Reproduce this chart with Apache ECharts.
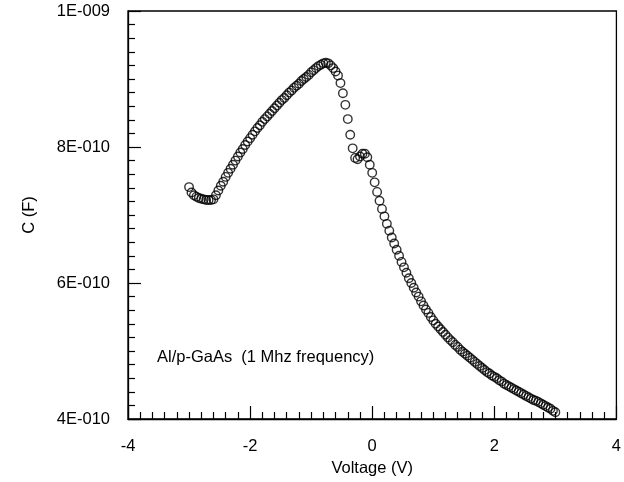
<!DOCTYPE html>
<html>
<head>
<meta charset="utf-8">
<script src="https://cdn.jsdelivr.net/npm/echarts@6/dist/echarts.min.js"></script>
<style>
html,body{margin:0;padding:0;background:#fff;}
#chart{width:624px;height:482px;}
</style>
</head>
<body>
<div id="chart"></div>
<script>
// Voltage (V)
var voltage = [
-3.00,-2.96,-2.92,-2.88,-2.84,-2.80,-2.76,-2.72,-2.68,-2.64,-2.60,
-2.56,-2.52,-2.48,-2.44,-2.40,-2.36,-2.32,-2.28,-2.24,-2.20,
-2.16,-2.12,-2.08,-2.04,-2.00,-1.96,-1.92,-1.88,-1.84,-1.80,
-1.76,-1.72,-1.68,-1.64,-1.60,-1.56,-1.52,-1.48,-1.44,-1.40,
-1.36,-1.32,-1.28,-1.24,-1.20,-1.16,-1.12,-1.08,-1.04,-1.00,
-0.96,-0.92,-0.88,-0.84,-0.80,
-0.76,-0.72,-0.68,-0.64,-0.60,-0.56,
-0.52,-0.48,-0.44,-0.40,-0.36,-0.32,-0.28,-0.24,-0.20,-0.16,-0.12,-0.08,-0.04,0.00,
0.04,0.08,0.12,0.16,0.20,0.24,0.28,0.32,0.36,0.40,0.44,0.48,0.52,0.56,0.60,0.64,0.68,0.72,0.76,0.80,0.84,0.88,0.92,0.96,1.00,
1.04,1.08,1.12,1.16,1.20,1.24,1.28,1.32,1.36,1.40,
1.44,1.48,1.52,1.56,1.60,1.64,1.68,1.72,1.76,1.80,
1.84,1.88,1.92,1.96,2.00,2.04,2.08,2.12,2.16,2.20,
2.24,2.28,2.32,2.36,2.40,2.44,2.48,2.52,2.56,2.60,
2.64,2.68,2.72,2.76,2.80,2.84,2.88,2.92,2.96,3.00
];
// Capacitance in units of 1E-010 F
var capacitance = [
7.41,7.33,7.29,7.27,7.25,7.24,7.23,7.22,7.22,7.22,7.23,
7.29,7.36,7.43,7.49,7.56,7.62,7.68,7.74,7.80,7.86,
7.92,7.97,8.03,8.08,8.13,8.18,8.23,8.28,8.32,8.37,
8.41,8.45,8.49,8.53,8.57,8.61,8.65,8.69,8.72,8.76,
8.80,8.83,8.87,8.90,8.93,8.97,9.00,9.03,9.06,9.10,
9.13,9.16,9.19,9.21,9.23,
9.24,9.23,9.20,9.16,9.11,9.05,
8.94,8.79,8.62,8.41,8.18,7.98,7.84,7.82,7.86,7.90,7.90,7.85,7.74,7.62,
7.48,7.34,7.21,7.09,6.98,6.87,6.77,6.67,6.58,6.49,6.40,6.31,6.23,6.15,6.07,6.00,5.93,5.86,5.80,5.73,5.67,5.61,5.56,5.50,5.45,
5.40,5.36,5.32,5.28,5.24,5.20,5.16,5.13,5.09,5.06,
5.02,4.99,4.96,4.93,4.90,4.87,4.84,4.81,4.78,4.75,
4.72,4.69,4.67,4.64,4.62,4.60,4.57,4.55,4.52,4.50,
4.48,4.46,4.44,4.42,4.40,4.38,4.36,4.34,4.32,4.30,
4.28,4.27,4.25,4.23,4.21,4.19,4.17,4.15,4.12,4.10
];
var xTickLabels = {"-4":"-4","-2":"-2","0":"0","2":"2","4":"4"};
var yTickLabels = {"4":"4E-010","6":"6E-010","8":"8E-010","10":"1E-009"};
var annotation = "Al/p-GaAs  (1 Mhz frequency)";

var points = voltage.map(function(v,i){return [v, capacitance[i]];});
var FONT = "Liberation Sans";
var FS = 16.5;
var chart = echarts.init(document.getElementById('chart'), null, {renderer:'canvas'});
chart.setOption({
  animation:false,
  backgroundColor:'#fff',
  grid:{left:128, top:11, right:2, bottom:63, show:true, borderColor:'#000', borderWidth:1.3},
  xAxis:{
    type:'value', min:-4, max:4, interval:2,
    name:'Voltage (V)', nameLocation:'middle', nameGap:40,
    nameTextStyle:{fontFamily:FONT, fontSize:FS, color:'#000'},
    axisLine:{show:true, onZero:false, lineStyle:{color:'#000', width:1.3}},
    axisTick:{show:true, inside:true, length:13, lineStyle:{color:'#000', width:1.2}},
    minorTick:{show:true, splitNumber:10, length:7, lineStyle:{color:'#000', width:1.2}},
    axisLabel:{margin:19, fontFamily:FONT, fontSize:FS, color:'#000',
      formatter:function(v){return xTickLabels[String(v)];}},
    splitLine:{show:false}
  },
  yAxis:{
    type:'value', min:4, max:10, interval:2,
    name:'C (F)', nameLocation:'middle', nameGap:90, nameRotate:90,
    nameTextStyle:{fontFamily:FONT, fontSize:FS, color:'#000'},
    axisLine:{show:true, onZero:false, lineStyle:{color:'#000', width:1.3}},
    axisTick:{show:true, inside:true, length:13, lineStyle:{color:'#000', width:1.2}},
    minorTick:{show:true, splitNumber:10, length:7, lineStyle:{color:'#000', width:1.2}},
    axisLabel:{margin:18, fontFamily:FONT, fontSize:FS, color:'#000',
      formatter:function(v){return yTickLabels[String(v)];}},
    splitLine:{show:false}
  },
  graphic:[{
    type:'text', left:157, top:349,
    style:{text:annotation, fontFamily:FONT, fontSize:FS, fill:'#000'}
  }],
  series:[{
    type:'scatter',
    data:points,
    symbol:'circle',
    symbolSize:8.5,
    itemStyle:{color:'rgba(0,0,0,0)', borderColor:'#000', borderWidth:1.4}
  }]
});
</script>
</body>
</html>
